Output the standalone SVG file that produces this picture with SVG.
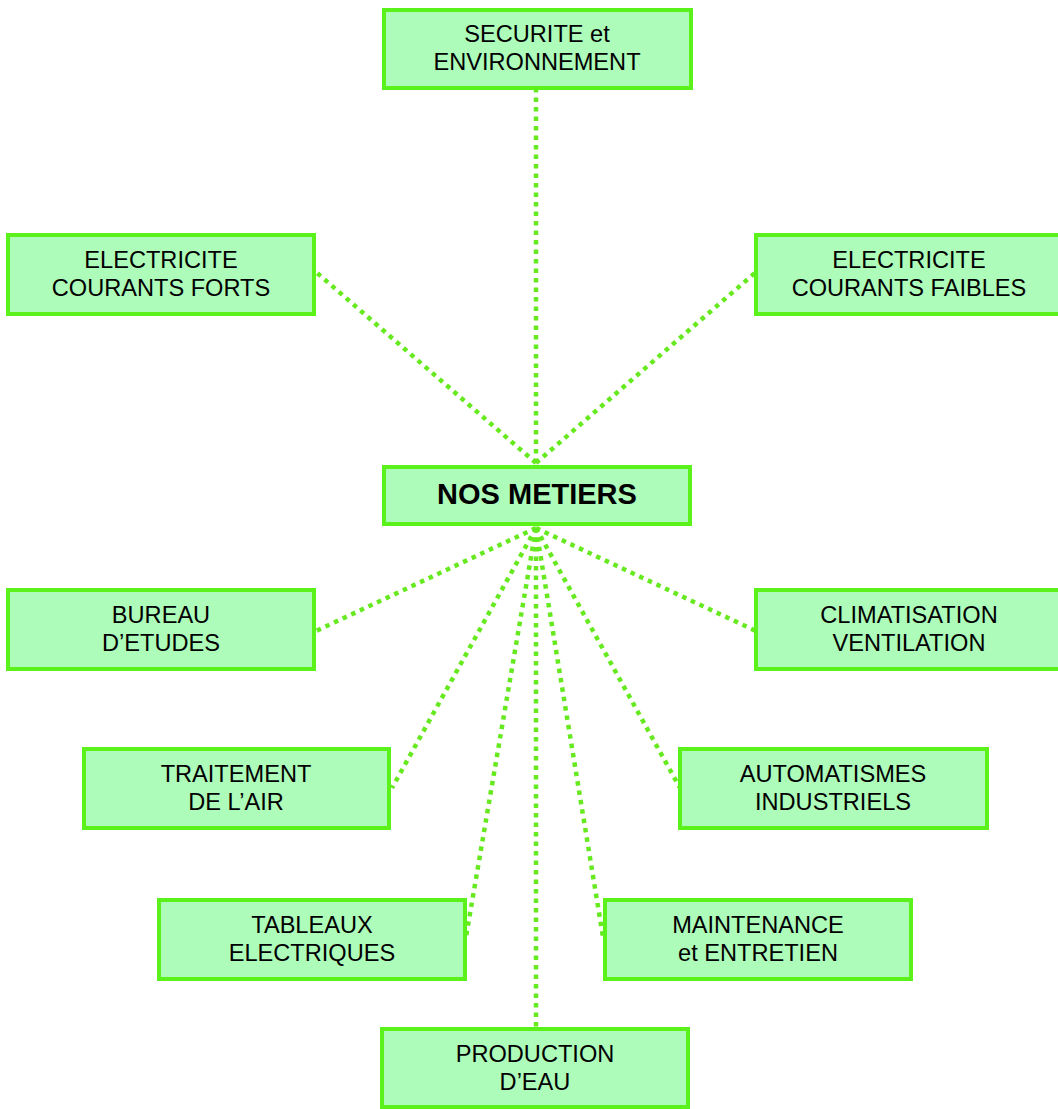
<svg xmlns="http://www.w3.org/2000/svg" width="1058" height="1109" viewBox="0 0 1058 1109">
<style>
.box{fill:#ADFCBA;stroke:#5AF21A;stroke-width:4}
.t{font-family:"Liberation Sans",Arial,sans-serif;font-size:23.6px;fill:#000;text-anchor:middle}
.tb{font-family:"Liberation Sans",Arial,sans-serif;font-size:29px;font-weight:bold;fill:#000;text-anchor:middle}
.c{stroke:#66EA1F;stroke-width:4.5;stroke-dasharray:4.5 5;fill:none}
</style>
<rect width="1058" height="1109" fill="#fff"/>
<g id="connectors">
<line class="c" x1="536" y1="463" x2="536" y2="90"/>
<line class="c" x1="536" y1="463" x2="316" y2="272"/>
<line class="c" x1="536" y1="463" x2="756" y2="272"/>
<line class="c" x1="536" y1="528" x2="316" y2="631"/>
<line class="c" x1="536" y1="528" x2="756" y2="631"/>
<line class="c" x1="536" y1="528" x2="392" y2="788"/>
<line class="c" x1="536" y1="528" x2="680" y2="788"/>
<line class="c" x1="536" y1="528" x2="466" y2="937"/>
<line class="c" x1="536" y1="528" x2="603" y2="937"/>
<line class="c" x1="536" y1="528" x2="536" y2="1027"/>
</g>
<g id="securite">
<rect class="box" x="384" y="10" width="307" height="78"/>
<text class="t" x="537" y="42">SECURITE et</text>
<text class="t" x="537" y="70">ENVIRONNEMENT</text>
</g>
<g id="courants-forts">
<rect class="box" x="8" y="235" width="306" height="79"/>
<text class="t" x="161" y="268">ELECTRICITE</text>
<text class="t" x="161" y="296">COURANTS FORTS</text>
</g>
<g id="courants-faibles">
<rect class="box" x="756" y="235" width="306" height="79"/>
<text class="t" x="909" y="268">ELECTRICITE</text>
<text class="t" x="909" y="296">COURANTS FAIBLES</text>
</g>
<g id="nos-metiers">
<rect class="box" x="384" y="467" width="306" height="57"/>
<text class="tb" x="537" y="504">NOS METIERS</text>
</g>
<g id="bureau">
<rect class="box" x="8" y="590" width="306" height="79"/>
<text class="t" x="161" y="623">BUREAU</text>
<text class="t" x="161" y="651">D’ETUDES</text>
</g>
<g id="climatisation">
<rect class="box" x="756" y="590" width="306" height="79"/>
<text class="t" x="909" y="623">CLIMATISATION</text>
<text class="t" x="909" y="651">VENTILATION</text>
</g>
<g id="traitement">
<rect class="box" x="84" y="749" width="305" height="79"/>
<text class="t" x="236" y="782">TRAITEMENT</text>
<text class="t" x="236" y="810">DE L’AIR</text>
</g>
<g id="automatismes">
<rect class="box" x="680" y="749" width="307" height="79"/>
<text class="t" x="833" y="782">AUTOMATISMES</text>
<text class="t" x="833" y="810">INDUSTRIELS</text>
</g>
<g id="tableaux">
<rect class="box" x="159" y="900" width="306" height="79"/>
<text class="t" x="312" y="933">TABLEAUX</text>
<text class="t" x="312" y="961">ELECTRIQUES</text>
</g>
<g id="maintenance">
<rect class="box" x="605" y="900" width="306" height="79"/>
<text class="t" x="758" y="933">MAINTENANCE</text>
<text class="t" x="758" y="961">et ENTRETIEN</text>
</g>
<g id="production">
<rect class="box" x="382" y="1029" width="306" height="78"/>
<text class="t" x="535" y="1062">PRODUCTION</text>
<text class="t" x="535" y="1090">D’EAU</text>
</g>
</svg>
